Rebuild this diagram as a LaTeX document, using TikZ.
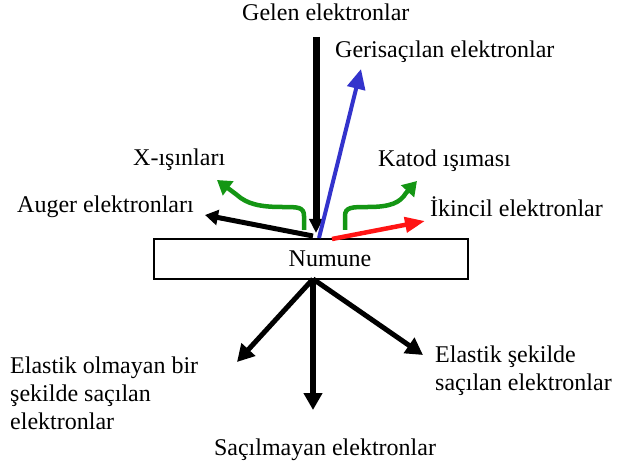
\documentclass[tikz,border=0pt]{standalone}
\usepackage{fontspec}
\setmainfont{Liberation Serif}
\usetikzlibrary{arrows.meta}

\definecolor{rayblue}{RGB}{51,51,204}
\definecolor{raygreen}{RGB}{20,150,20}
\definecolor{rayred}{RGB}{255,20,20}

\begin{document}
\begin{tikzpicture}[x=1pt,y=-1pt,>=Triangle,
    every node/.style={font=\fontsize{24}{28}\selectfont},
    lbl/.style={inner sep=0pt},
    ray/.style={line width=5pt,-{Triangle[length=17pt,width=18pt]}},
    wave/.style={line width=4.5pt,raygreen,-{Triangle[length=14pt,width=17pt]}}]
    \useasboundingbox (0,0) rectangle (619,468);
    % sample
    \node[draw,line width=1.2pt,minimum width=314pt,minimum height=40pt,inner sep=0pt] (numune) at (311,259) {\hspace*{38pt}Numune};
    % labels
    \node[lbl,anchor=base west] (gelen) at (242,21) {Gelen elektronlar};
    \node[lbl,anchor=base west] (geri) at (335,58) {Gerisaçılan elektronlar};
    \node[lbl,anchor=base west] (xray) at (133,166) {X-ışınları};
    \node[lbl,anchor=base west] (katod) at (378,167) {Katod ışıması};
    \node[lbl,anchor=base west] (auger) at (17,213) {Auger elektronları};
    \node[lbl,anchor=base west] (ikincil) at (430,216) {İkincil elektronlar};
    \node[lbl,anchor=north west,align=left] (inelastik) at (10,357) {Elastik olmayan bir\\şekilde saçılan\\elektronlar};
    \node[lbl,anchor=north west,align=left] (elastik) at (435,346) {Elastik şekilde\\saçılan elektronlar};
    \node[lbl,anchor=base] (sacilmayan) at (325,455) {Saçılmayan elektronlar};
    % ray ends
    \coordinate (top) at (316,37);
    \coordinate (hit) at (316,233);
    \coordinate (bsfrom) at (319,238);
    \coordinate (bsto) at (361,69);
    \coordinate (augfrom) at (313,236);
    \coordinate (augto) at (205,215);
    \coordinate (secfrom) at (332,239);
    \coordinate (secto) at (425,221);
    \coordinate (xfrom) at (304,230);
    \coordinate (xto) at (217,180);
    \coordinate (kfrom) at (345,230);
    \coordinate (kto) at (417,181);
    \coordinate (out) at (313,279);
    \coordinate (inelto) at (237,362);
    \coordinate (unto) at (313,410);
    \coordinate (elto) at (423,355);
    % incoming beam
    \draw[line width=7pt,-{Triangle[length=14pt,width=13pt]}] (top) -- (hit);
    \draw[line width=4pt,rayblue,-{Triangle[length=20pt,width=18pt]}] (bsfrom) -- (bsto);
    \draw[line width=5pt,-{Triangle[length=13pt,width=15pt]}] (augfrom) -- (augto);
    \draw[line width=4.5pt,rayred,-{Triangle[length=20pt,width=15pt]}] (secfrom) -- (secto);
    \draw[wave] (xfrom) -- (304,216) .. controls (304,207) and (298,207) .. (282,207)
        .. controls (260,207) and (247,204) .. (237,195) -- (xto);
    \draw[wave] (kfrom) -- (345,216) .. controls (345,207) and (352,207) .. (368,207)
        .. controls (390,207) and (400,203) .. (406,193) -- (kto);
    % transmitted electrons
    \draw[ray] (out) -- (inelto);
    \draw[ray,line width=6pt] (out) -- (unto);
    \draw[ray] (out) -- (elto);
\end{tikzpicture}
\end{document}
